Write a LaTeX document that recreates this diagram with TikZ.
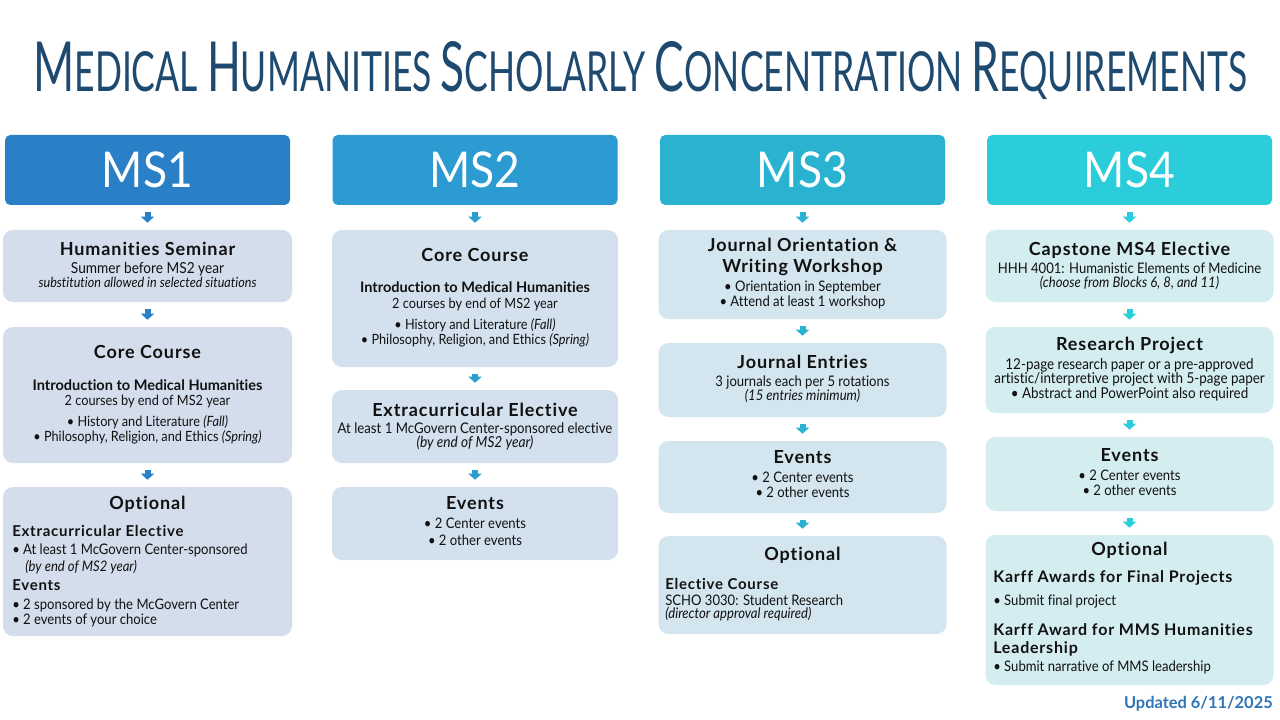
\documentclass[tikz,border=0pt]{standalone}
\usepackage{fontspec}
\setmainfont{Lato}[Ligatures=NoCommon]
\newfontfamily\bodyf{Lato}[FakeStretch=0.9,Ligatures=NoCommon]
\newfontfamily\headf{Lato}[LetterSpace=5,Ligatures=NoCommon]
\newfontfamily\titlef{Lato}[Ligatures=NoCommon]
\usetikzlibrary{arrows.meta}
\definecolor{navy}{HTML}{1F4A70}
\definecolor{txt}{HTML}{111111}
\definecolor{hc1}{HTML}{2A80C6}
\definecolor{hc2}{HTML}{2B9BD1}
\definecolor{hc3}{HTML}{2AB3D1}
\definecolor{hc4}{HTML}{2ACDD9}
\definecolor{bc1}{HTML}{D3DDEC}
\definecolor{bc2}{HTML}{D3E1EE}
\definecolor{bc3}{HTML}{D3E6EF}
\definecolor{bc4}{HTML}{D4EDF1}
\definecolor{upd}{HTML}{2E75B6}
\newcommand\TCap[2]{{\fontsize{20}{20}\selectfont #1}{\fontsize{16}{16}\selectfont #2}}
\newcommand\TSp{{\fontsize{16}{16}\selectfont\ }}
\begin{document}
\begin{tikzpicture}[x=0.75pt,y=-0.75pt,
  hdr/.style={rounded corners=4pt, inner sep=0, minimum width=213.75pt, minimum height=52.5pt, text=white, font=\bodyf\fontsize{37}{40}\selectfont},
  rbox/.style={rounded corners=7.5pt, inner sep=0, minimum width=#1},
  hd/.style={font=\headf\bfseries\fontsize{13.5}{15}\selectfont, anchor=mid, inner sep=0, text=txt},
  lh/.style={font=\headf\bfseries\fontsize{11.25}{13}\selectfont, anchor=mid west, inner sep=0, text=txt},
  lhb/.style={lh, font=\headf\bfseries\fontsize{12}{14}\selectfont},
  sb/.style={font=\bfseries\fontsize{10.9}{12}\selectfont, anchor=mid, inner sep=0, text=txt},
  bd/.style={font=\bodyf\fontsize{10.9}{12}\selectfont, anchor=mid, inner sep=0, text=txt},
  bdi/.style={bd, font=\bodyf\itshape\fontsize{10.9}{12}\selectfont},
  bdc/.style={bd, font=\bodyf\fontsize{10.6}{12}\selectfont},
  bdr/.style={bd, font=\bodyf\fontsize{11.2}{12}\selectfont},
  bdl/.style={bd, anchor=mid west},
  arr/.style={draw=#1, line width=4.5pt, -{Triangle[width=9.75pt,length=4.5pt]}, shorten <=5.25pt, shorten >=5.25pt}
]
\useasboundingbox (0,0) rectangle (1280,720);
\fill[white] (0,0) rectangle (1280,720);

% title
\node[anchor=base west, inner sep=0, text=navy] (title) at (33,92)
 {\resizebox{910.5pt}{37.5pt}{\titlef\TCap{M}{EDICAL}\TSp\TCap{H}{UMANITIES}\TSp\TCap{S}{CHOLARLY}\TSp\TCap{C}{ONCENTRATION}\TSp\TCap{R}{EQUIREMENTS}}};

% headers
\node[hdr, fill=hc1] (h1) at (147.5,170) {MS1};
\node[hdr, fill=hc2] (h2) at (475,170) {MS2};
\node[hdr, fill=hc3] (h3) at (802.5,170) {MS3};
\node[hdr, fill=hc4] (h4) at (1129.5,170) {MS4};

% ===== MS1 =====
\node[rbox=216.75pt, fill=bc1, minimum height=54pt] (b11) at (147.5,266) {};
\node[rbox=216.75pt, fill=bc1, minimum height=102pt] (b12) at (147.5,395) {};
\node[rbox=216.75pt, fill=bc1, minimum height=111.75pt] (b13) at (147.5,561.5) {};
\draw[arr=hc1] (h1) -- (b11);
\draw[arr=hc1] (b11) -- (b12);
\draw[arr=hc1] (b12) -- (b13);

\node[hd] (t11a) at (147.5,252) {Humanities Seminar};
\node[bd, font=\bodyf\fontsize{11.4}{12}\selectfont] (t11b) at (147.5,270) {Summer before MS2 year};
\node[bdi, font=\bodyf\itshape\fontsize{10.5}{11}\selectfont] (t11c) at (147.5,284.5) {substitution allowed in selected situations};

\node[hd] (t12a) at (147.5,355) {Core Course};
\node[sb] (t12b) at (147.5,387) {Introduction to Medical Humanities};
\node[bdc] (t12c) at (147.5,402) {2 courses by end of MS2 year};
\node[bdc] (t12d) at (147.5,423) {• History and Literature \textit{(Fall)}};
\node[bdc] (t12e) at (147.5,438) {• Philosophy, Religion, and Ethics \textit{(Spring)}};

\node[hd] (t13a) at (147.5,506) {Optional};
\node[lh] (t13b) at (12,533) {Extracurricular Elective};
\node[bdl] (t13c) at (12,551) {• At least 1 McGovern Center-sponsored};
\node[bdi, anchor=mid west] (t13d) at (25,568) {(by end of MS2 year)};
\node[lh] (t13e) at (12,587) {Events};
\node[bdl] (t13f) at (12,606) {• 2 sponsored by the McGovern Center};
\node[bdl] (t13g) at (12,621) {• 2 events of your choice};

% ===== MS2 =====
\node[rbox=214.5pt, fill=bc2, minimum height=102.75pt] (b21) at (475,298.5) {};
\node[rbox=214.5pt, fill=bc2, minimum height=54.75pt] (b22) at (475,426.5) {};
\node[rbox=214.5pt, fill=bc2, minimum height=54.75pt] (b23) at (475,523.5) {};
\draw[arr=hc2] (h2) -- (b21);
\draw[arr=hc2] (b21) -- (b22);
\draw[arr=hc2] (b22) -- (b23);

\node[hd] (t21a) at (475,258) {Core Course};
\node[sb] (t21b) at (475,289) {Introduction to Medical Humanities};
\node[bdc] (t21c) at (475,305) {2 courses by end of MS2 year};
\node[bdc] (t21d) at (475,326) {• History and Literature \textit{(Fall)}};
\node[bdc] (t21e) at (475,341) {• Philosophy, Religion, and Ethics \textit{(Spring)}};

\node[hd] (t22a) at (475,413) {Extracurricular Elective};
\node[bd, font=\bodyf\fontsize{11}{12}\selectfont] (t22b) at (475,430) {At least 1 McGovern Center-sponsored elective};
\node[bdi, font=\bodyf\itshape\fontsize{11.4}{12}\selectfont] (t22c) at (475,444) {(by end of MS2 year)};

\node[hd] (t23a) at (475,506) {Events};
\node[bd] (t23b) at (475,525) {• 2 Center events};
\node[bd] (t23c) at (475,542) {• 2 other events};

% ===== MS3 =====
\node[rbox=216pt, fill=bc3, minimum height=66.75pt] (b31) at (802.5,274.5) {};
\node[rbox=216pt, fill=bc3, minimum height=55.5pt] (b32) at (802.5,380) {};
\node[rbox=216pt, fill=bc3, minimum height=54pt] (b33) at (802.5,477) {};
\node[rbox=216pt, fill=bc3, minimum height=73.5pt] (b34) at (802.5,585) {};
\draw[arr=hc3] (h3) -- (b31);
\draw[arr=hc3] (b31) -- (b32);
\draw[arr=hc3] (b32) -- (b33);
\draw[arr=hc3] (b33) -- (b34);

\node[hd] (t31a) at (802.5,248) {Journal Orientation \&};
\node[hd] (t31b) at (802.5,269) {Writing Workshop};
\node[bd] (t31c) at (802.5,288) {• Orientation in September};
\node[bd] (t31d) at (802.5,303) {• Attend at least 1 workshop};

\node[hd] (t32a) at (802.5,365) {Journal Entries};
\node[bd] (t32b) at (802.5,383) {3 journals each per 5 rotations};
\node[bdi] (t32c) at (802.5,397.5) {(15 entries minimum)};

\node[hd] (t33a) at (802.5,460) {Events};
\node[bd] (t33b) at (802.5,479) {• 2 Center events};
\node[bd] (t33c) at (802.5,494) {• 2 other events};

\node[hd] (t34a) at (802.5,557) {Optional};
\node[lh] (t34b) at (665,586) {Elective Course};
\node[bdl] (t34c) at (665,602) {SCHO 3030: Student Research};
\node[bdi, anchor=mid west] (t34d) at (665,615.5) {(director approval required)};

% ===== MS4 =====
\node[rbox=216pt, fill=bc4, minimum height=54pt] (b41) at (1129.5,266) {};
\node[rbox=216pt, fill=bc4, minimum height=64.5pt] (b42) at (1129.5,370) {};
\node[rbox=216pt, fill=bc4, minimum height=55.5pt] (b43) at (1129.5,474) {};
\node[rbox=216pt, fill=bc4, minimum height=112.5pt] (b44) at (1129.5,610) {};
\draw[arr=hc4] (h4) -- (b41);
\draw[arr=hc4] (b41) -- (b42);
\draw[arr=hc4] (b42) -- (b43);
\draw[arr=hc4] (b43) -- (b44);

\node[hd] (t41a) at (1129.5,252) {Capstone MS4 Elective};
\node[bd] (t41b) at (1129.5,270) {HHH 4001: Humanistic Elements of Medicine};
\node[bdi] (t41c) at (1129.5,284) {(choose from Blocks 6, 8, and 11)};

\node[hd] (t42a) at (1129.5,347) {Research Project};
\node[bdr] (t42b) at (1129.5,366) {12-page research paper or a pre-approved};
\node[bdr] (t42c) at (1129.5,380.5) {artistic/interpretive project with 5-page paper};
\node[bdr] (t42d) at (1129.5,395.5) {• Abstract and PowerPoint also required};

\node[hd] (t43a) at (1129.5,458) {Events};
\node[bd] (t43b) at (1129.5,477) {• 2 Center events};
\node[bd] (t43c) at (1129.5,492) {• 2 other events};

\node[hd] (t44a) at (1129.5,552) {Optional};
\node[lhb] (t44b) at (993,579) {Karff Awards for Final Projects};
\node[bdl] (t44c) at (993,602) {• Submit final project};
\node[lhb] (t44d) at (993,632) {Karff Award for MMS Humanities};
\node[lhb] (t44e) at (993,650) {Leadership};
\node[bdl] (t44f) at (993,668) {• Submit narrative of MMS leadership};

\node[anchor=mid east, inner sep=0, text=upd, font=\bfseries\fontsize{12.3}{14}\selectfont] (updt) at (1273,705) {Updated 6/11/2025};
\end{tikzpicture}
\end{document}
